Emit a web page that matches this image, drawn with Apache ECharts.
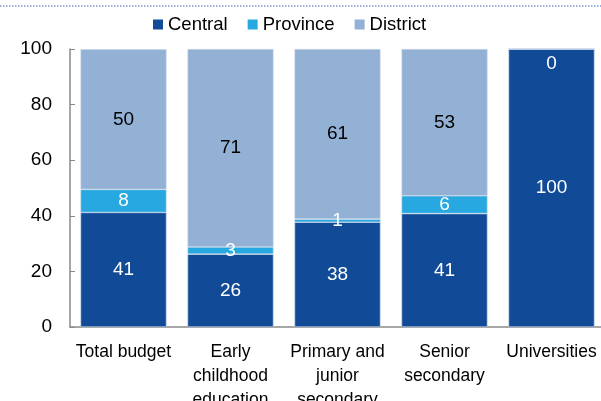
<!DOCTYPE html>
<html>
<head>
<meta charset="utf-8">
<script src="https://cdn.jsdelivr.net/npm/echarts@6/dist/echarts.min.js"></script>
<style>html,body{margin:0;padding:0;background:#fff}#c{width:601px;height:401px}</style>
</head>
<body>
<div id="c"></div>
<script>
var categories = ['Total budget', 'Early\nchildhood\neducation', 'Primary and\njunior\nsecondary', 'Senior\nsecondary', 'Universities'];
var centralValues = [41.2, 26.2, 37.7, 40.8, 100];
var provinceValues = [8.3, 2.6, 1.1, 6.4, 0];
var districtValues = [50.4, 71.2, 61.2, 52.8, 0];
var yTicks = [0, 20, 40, 60, 80, 100];

var FONT = 'Liberation Sans, Arial, sans-serif';
var chart = echarts.init(document.getElementById('c'), null, {renderer: 'canvas'});

function lbl(color) {
  return {
    show: true, position: 'inside', color: color, fontSize: 19, fontFamily: FONT,
    formatter: function (p) { return Math.round(p.value); }
  };
}

var provinceData = provinceValues.map(function (v) {
  if (v === 0) return {value: v, label: {show: false}};
  return v;
});
var districtData = districtValues.map(function (v) {
  if (v === 0) return {value: v, label: {position: 'insideTop', color: '#ffffff', distance: 6}};
  return v;
});

chart.setOption({
  animation: false,
  textStyle: {fontFamily: FONT},
  legend: {
    left: 153, top: 15, padding: 0,
    itemWidth: 10, itemHeight: 10, itemGap: 20,
    icon: 'rect',
    itemStyle: {borderWidth: 0},
    textStyle: {fontSize: 18.5, color: '#000', fontFamily: FONT},
    data: ['Central', 'Province', 'District']
  },
  grid: {left: 70, width: 535, top: 49, height: 278, containLabel: false, outerBoundsMode: 'none'},
  xAxis: {
    type: 'category', data: categories,
    axisLine: {lineStyle: {color: '#8a8a8a', width: 1.5}},
    axisTick: {inside: true, length: 5, lineStyle: {color: '#8a8a8a'}},
    axisLabel: {color: '#000', fontSize: 17.5, lineHeight: 24, margin: 13, fontFamily: FONT, interval: 0}
  },
  yAxis: {
    type: 'value', min: 0, max: 100, interval: 20,
    splitLine: {show: false},
    axisLine: {show: true, lineStyle: {color: '#8a8a8a', width: 1.5}},
    axisTick: {show: true, inside: true, length: 5, lineStyle: {color: '#8a8a8a'}},
    axisLabel: {color: '#000', fontSize: 19, margin: 18, fontFamily: FONT,
      formatter: function (v) { return yTicks.indexOf(v) >= 0 ? String(v) : ''; }}
  },
  series: [
    {name: 'Central', type: 'bar', stack: 's', barWidth: 86, data: centralValues,
      itemStyle: {color: '#114B97', borderColor: '#c9d7ea', borderWidth: 0.6}, label: lbl('#ffffff')},
    {name: 'Province', type: 'bar', stack: 's', barWidth: 86, data: provinceData,
      itemStyle: {color: '#28A8E0', borderColor: '#c9d7ea', borderWidth: 0.6}, label: lbl('#ffffff')},
    {name: 'District', type: 'bar', stack: 's', barWidth: 86, data: districtData,
      itemStyle: {color: '#93B0D5', borderColor: '#c9d7ea', borderWidth: 0.6}, label: lbl('#000000')}
  ],
  graphic: [
    {type: 'line', shape: {x1: 0, y1: 6, x2: 601, y2: 6},
      style: {stroke: '#3f62b5', lineWidth: 1.2, lineDash: [1.5, 1.5]}}
  ]
});
</script>
</body>
</html>
